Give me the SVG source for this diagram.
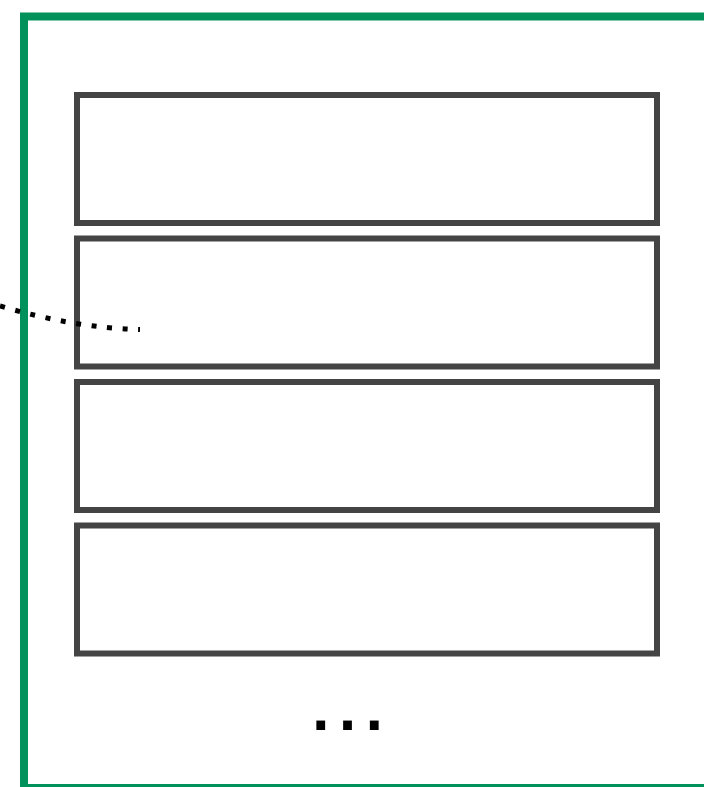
<svg xmlns="http://www.w3.org/2000/svg" width="704" height="787" viewBox="0 0 704 787">
<style>
.box{fill:#fff;stroke:#444;stroke-width:6}
.frame{fill:none;stroke:#00925a;stroke-width:8}
.dots{font-family:"DejaVu Sans",sans-serif;font-weight:bold;font-size:50px;fill:#000;letter-spacing:7.7px}
</style>
<rect width="704" height="787" fill="#fff"/>
<g id="frame"><rect class="frame" x="24" y="16.5" width="720" height="771.5"/></g>
<g id="box1"><rect class="box" x="77" y="95" width="580" height="128"/></g>
<g id="box2"><rect class="box" x="77" y="238.5" width="580" height="128"/></g>
<g id="box3"><rect class="box" x="77" y="382" width="580" height="128"/></g>
<g id="box4"><rect class="box" x="77" y="525.5" width="580" height="128"/></g>
<g id="connectors"><path d="M0,306 Q75,328 140,329.5" fill="none" stroke="#000" stroke-width="5" stroke-dasharray="5 10.6"/></g>
<g id="ellipsis"><text class="dots" x="311.3" y="729.5">...</text></g>
</svg>
